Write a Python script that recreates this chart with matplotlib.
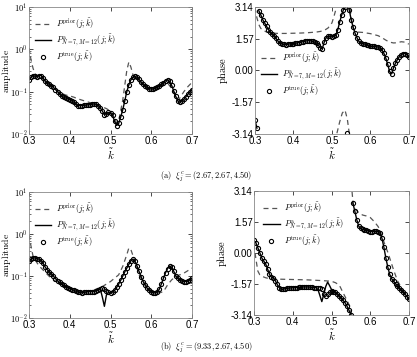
import numpy as np
import matplotlib
matplotlib.use("Agg")
import matplotlib.pyplot as plt
from matplotlib import ticker
from matplotlib.lines import Line2D

plt.rcParams['mathtext.fontset'] = 'cm'
plt.rcParams['font.family'] = ['Liberation Sans', 'DejaVu Sans']

# sampling grid of the true / fitted curves
k = np.linspace(0.3, 0.7, 81)

# ---- case (a): log10 of amplitude
amp_true_a = [-0.72, -0.66, -0.62, -0.64, -0.65, -0.62, -0.62, -0.68, -0.76, -0.80,
              -0.83, -0.86, -0.90, -0.95, -1.00, -1.05, -1.10, -1.13, -1.15, -1.17,
              -1.19, -1.22, -1.25, -1.30, -1.33, -1.33, -1.33, -1.32, -1.32, -1.31,
              -1.31, -1.30, -1.29, -1.30, -1.33, -1.38, -1.46, -1.54, -1.52, -1.49,
              -1.50, -1.56, -1.70, -1.80, -1.75, -1.60, -1.43, -1.22, -1.00, -0.84,
              -0.72, -0.66, -0.64, -0.66, -0.71, -0.77, -0.83, -0.87, -0.90, -0.93,
              -0.94, -0.94, -0.92, -0.90, -0.87, -0.83, -0.79, -0.74, -0.72, -0.76,
              -0.85, -0.98, -1.11, -1.22, -1.25, -1.22, -1.18, -1.12, -1.06, -1.00,
              -0.95]
amp_fit_a = amp_true_a  # fit lies on top of the true curve here
amp_prior_k_a = [0.300, 0.305, 0.310, 0.315, 0.320, 0.330, 0.340, 0.350, 0.360, 0.370,
                 0.380, 0.390, 0.400, 0.410, 0.420, 0.430, 0.440, 0.450, 0.460, 0.470,
                 0.480, 0.490, 0.500, 0.510, 0.515, 0.520, 0.530, 0.540, 0.545, 0.550,
                 0.555, 0.560, 0.570, 0.580, 0.590, 0.600, 0.610, 0.620, 0.630, 0.640,
                 0.650, 0.660, 0.665, 0.670, 0.680, 0.690, 0.700]
amp_prior_a = [0.03, -0.25, -0.45, -0.58, -0.65, -0.68, -0.74, -0.80, -0.88, -0.96,
               -1.04, -1.08, -1.10, -1.13, -1.17, -1.20, -1.23, -1.26, -1.28, -1.32,
               -1.36, -1.40, -1.46, -1.62, -1.75, -1.70, -1.20, -0.50, -0.30, -0.42,
               -0.60, -0.68, -0.76, -0.84, -0.90, -0.94, -0.92, -0.88, -0.82, -0.80,
               -0.92, -1.12, -1.20, -1.15, -1.00, -0.88, -0.78]

# ---- case (a): phase (wrapped to [-pi, pi])
ph_true_a = [-2.45, -2.85, 2.95, 2.75, 2.51, 2.35, 2.18, 2.02, 1.88, 1.80,
             1.72, 1.58, 1.44, 1.36, 1.31, 1.29, 1.28, 1.29, 1.31, 1.32,
             1.32, 1.34, 1.36, 1.38, 1.40, 1.42, 1.45, 1.46, 1.48, 1.46,
             1.44, 1.40, 1.36, 1.25, 1.11, 1.08, 1.40, 1.62, 1.70, 1.68,
             1.66, 1.68, 1.73, 2.00, 2.38, 2.72, 3.01, 3.12, -3.08, 3.00,
             2.51, 2.15, 1.85, 1.62, 1.44, 1.36, 1.32, 1.30, 1.27, 1.24,
             1.19, 1.19, 1.19, 1.17, 1.15, 1.10, 1.02, 0.85, 0.61, 0.30,
             -0.05, -0.17, 0.12, 0.35, 0.53, 0.68, 0.78, 0.83, 0.83, 0.78,
             0.66]
ph_fit_a = ph_true_a
ph_prior_k_a = [0.300, 0.305, 0.310, 0.315, 0.320, 0.330, 0.340, 0.360, 0.380, 0.400,
                0.420, 0.440, 0.460, 0.470, 0.480, 0.490, 0.500, 0.505, 0.510, 0.513,
                0.520, 0.527, 0.534, 0.540, 0.545, 0.547, 0.552, 0.556, 0.565, 0.580,
                0.600, 0.620, 0.630, 0.640, 0.650, 0.660, 0.670, 0.680, 0.690, 0.700]
ph_prior_a = [3.10, 2.60, 2.27, 2.08, 2.00, 1.90, 1.85, 1.83, 1.83, 1.84,
              1.85, 1.87, 1.90, 1.93, 1.98, 2.10, 2.35, 2.65, 3.00, -3.10,
              -2.55, -2.10, -1.96, -2.40, -3.10, 3.05, 2.40, 2.05, 1.90, 1.88,
              1.82, 1.72, 1.62, 1.50, 1.40, 1.36, 1.37, 1.42, 1.40, 1.30]

# ---- case (b): log10 of amplitude
amp_true_b = [-0.65, -0.60, -0.57, -0.57, -0.59, -0.60, -0.63, -0.70, -0.79, -0.85,
              -0.90, -0.95, -1.00, -1.06, -1.11, -1.15, -1.19, -1.22, -1.25, -1.28,
              -1.30, -1.32, -1.34, -1.36, -1.38, -1.39, -1.40, -1.39, -1.38, -1.37,
              -1.37, -1.37, -1.37, -1.35, -1.33, -1.30, -1.29, -1.31, -1.35, -1.39,
              -1.40, -1.38, -1.34, -1.27, -1.19, -1.10, -1.00, -0.90, -0.81, -0.72,
              -0.63, -0.60, -0.65, -0.76, -0.89, -1.01, -1.13, -1.22, -1.29, -1.34,
              -1.37, -1.40, -1.40, -1.37, -1.31, -1.18, -1.05, -0.92, -0.82, -0.76,
              -0.79, -0.88, -1.00, -1.05, -1.09, -1.12, -1.13, -1.13, -1.12, -1.09,
              -1.05]
amp_fit_b = [-0.65, -0.60, -0.57, -0.57, -0.59, -0.60, -0.63, -0.70, -0.79, -0.85,
             -0.90, -0.95, -1.00, -1.06, -1.11, -1.15, -1.19, -1.22, -1.25, -1.28,
             -1.30, -1.32, -1.34, -1.36, -1.38, -1.39, -1.40, -1.39, -1.38, -1.37,
             -1.37, -1.37, -1.37, -1.35, -1.33, -1.31, -1.50, -1.72, -1.45, -1.39,
             -1.40, -1.38, -1.34, -1.27, -1.19, -1.10, -1.00, -0.90, -0.81, -0.72,
             -0.63, -0.60, -0.65, -0.76, -0.89, -1.01, -1.13, -1.22, -1.29, -1.34,
             -1.37, -1.40, -1.40, -1.37, -1.31, -1.18, -1.05, -0.92, -0.82, -0.76,
             -0.79, -0.88, -1.00, -1.05, -1.09, -1.12, -1.13, -1.13, -1.12, -1.09,
             -1.05]
amp_prior_k_b = [0.300, 0.305, 0.310, 0.320, 0.330, 0.340, 0.350, 0.360, 0.370, 0.380,
                 0.390, 0.400, 0.420, 0.440, 0.460, 0.480, 0.500, 0.520, 0.530, 0.540,
                 0.545, 0.550, 0.560, 0.570, 0.580, 0.590, 0.600, 0.610, 0.620, 0.630,
                 0.640, 0.650, 0.660, 0.680, 0.700]
amp_prior_b = [-0.02, -0.29, -0.53, -0.69, -0.81, -0.91, -1.01, -1.09, -1.14, -1.19,
               -1.25, -1.29, -1.35, -1.38, -1.33, -1.25, -1.13, -0.97, -0.77, -0.49,
               -0.33, -0.37, -0.65, -0.97, -1.13, -1.25, -1.33, -1.38, -1.40, -1.37,
               -1.21, -1.09, -1.01, -0.93, -0.81]

# ---- case (b): phase (wrapped)
ph_true_b = [0.64, 0.52, 0.27, 0.02, -0.24, -0.40, -0.54, -0.80, -1.08, -1.22,
             -1.25, -1.40, -1.59, -1.75, -1.84, -1.84, -1.81, -1.79, -1.78, -1.77,
             -1.76, -1.76, -1.75, -1.74, -1.73, -1.72, -1.72, -1.72, -1.72, -1.73,
             -1.74, -1.75, -1.75, -1.75, -1.77, -1.84, -2.05, -2.20, -2.05, -1.95,
             -1.93, -1.95, -1.99, -2.07, -2.18, -2.28, -2.40, -2.52, -2.69, -2.90,
             -3.12, 2.55, 2.13, 1.70, 1.37, 1.25, 1.20, 1.17, 1.15, 1.12,
             1.08, 1.09, 1.11, 1.10, 1.08, 1.00, 0.75, 0.30, -0.24, -0.70,
             -1.08, -1.30, -1.42, -1.55, -1.67, -1.78, -1.89, -1.99, -2.09, -2.22,
             -2.35]
ph_fit_b = [0.64, 0.52, 0.27, 0.02, -0.24, -0.40, -0.54, -0.80, -1.08, -1.22,
            -1.25, -1.40, -1.59, -1.75, -1.84, -1.84, -1.81, -1.79, -1.78, -1.77,
            -1.76, -1.76, -1.75, -1.74, -1.73, -1.72, -1.72, -1.72, -1.72, -1.73,
            -1.74, -1.75, -1.75, -1.85, -2.15, -2.46, -2.10, -1.70, -1.47, -1.65,
            -1.85, -1.96, -1.99, -2.07, -2.18, -2.28, -2.40, -2.52, -2.69, -2.90,
            -3.12, 2.55, 2.13, 1.70, 1.37, 1.25, 1.20, 1.17, 1.15, 1.12,
            1.08, 1.09, 1.11, 1.10, 1.08, 1.00, 0.75, 0.30, -0.24, -0.70,
            -1.08, -1.30, -1.42, -1.55, -1.67, -1.78, -1.89, -1.99, -2.09, -2.22,
            -2.35]
ph_prior_k_b = [0.300, 0.305, 0.310, 0.315, 0.320, 0.330, 0.340, 0.360, 0.380, 0.400,
                0.420, 0.440, 0.460, 0.480, 0.500, 0.510, 0.520, 0.530, 0.540, 0.548,
                0.552, 0.553, 0.556, 0.560, 0.570, 0.580, 0.590, 0.600, 0.610, 0.620,
                0.625, 0.630, 0.640, 0.646, 0.650, 0.660, 0.670, 0.680, 0.690, 0.700]
ph_prior_b = [0.44, -0.30, -0.91, -1.10, -1.17, -1.25, -1.30, -1.32, -1.33, -1.34,
              -1.35, -1.36, -1.38, -1.40, -1.43, -1.50, -1.62, -2.02, -2.40, -2.73,
              -3.10, 3.10, 2.43, 2.25, 2.05, 1.93, 1.88, 1.80, 1.60, 1.35,
              1.17, 0.85, 0.30, 0.00, -0.25, -0.85, -1.40, -1.75, -2.05, -2.35]

labels = [r'$P^{\rm prior}(j;\tilde{k})$',
          r'$P^{\rm a}_{N=7,M=12}(j;\tilde{k})$',
          r'$P^{\rm true}(j;\tilde{k})$']
captions = [r'$\mathrm{(a)}\ \ \xi^c_j = (2.67, 2.67, 4.50)$',
            r'$\mathrm{(b)}\ \ \xi^c_j = (9.33, 2.67, 4.50)$']

PRIOR = dict(color='#555555', lw=0.9, ls=(0, (4, 3)))
FIT = dict(color='black', lw=1.0)
TRUE = dict(ls='none', marker='o', ms=3.0, mew=0.8, mec='black', mfc='none')


def unwrap_breaks(x, y):
    # cut the line where the phase jumps across +-pi
    x = np.asarray(x, float)
    y = np.asarray(y, float)
    cut = np.where(np.abs(np.diff(y)) > np.pi)[0] + 1
    return np.insert(x, cut, np.nan), np.insert(y, cut, np.nan)


def style(ax):
    ax.set_xlim(0.3, 0.7)
    ax.set_xticks([0.3, 0.4, 0.5, 0.6, 0.7])
    ax.set_xticklabels(['0.3', '0.4', '0.5', '0.6', '0.7'])
    ax.tick_params(which='both', direction='in', top=True, right=True,
                   labelsize=7, pad=1.5)
    ax.tick_params(which='major', length=3, width=0.5)
    ax.tick_params(which='minor', length=1.5, width=0.4)
    for s in ax.spines.values():
        s.set_linewidth(0.6)
        s.set_color('#888888')
    ax.set_xlabel(r'$\tilde{k}$', fontsize=8, labelpad=0)


def legend(ax, **kw):
    handles = [Line2D([], [], **PRIOR), Line2D([], [], **FIT), Line2D([], [], **TRUE)]
    ax.legend(handles, labels, frameon=False, fontsize=6, handlelength=2.0,
              handletextpad=0.5, labelspacing=0.15, borderpad=0.2, **kw)


def amp_panel(ax, true, fit, pk, prior):
    ax.plot(pk, 10 ** np.asarray(prior), **PRIOR)
    ax.plot(k, 10 ** np.asarray(fit), **FIT)
    ax.plot(k, 10 ** np.asarray(true), **TRUE)
    ax.set_yscale('log')
    ax.set_ylim(1e-2, 1e1)
    ax.yaxis.set_major_locator(ticker.FixedLocator([1e-2, 1e-1, 1e0, 1e1]))
    ax.yaxis.set_major_formatter(ticker.FuncFormatter(
        lambda v, p: r'$\mathsf{10^{%d}}$' % round(np.log10(v))))
    ax.yaxis.set_minor_locator(ticker.LogLocator(base=10, subs=np.arange(2, 10)))
    ax.yaxis.set_minor_formatter(ticker.NullFormatter())
    style(ax)
    ax.tick_params(axis='y', labelsize=6.0, pad=1)
    ax.set_ylabel(r'$\mathrm{amplitude}$', fontsize=7.0)
    ax.yaxis.set_label_coords(-0.098, 0.5)


def phase_panel(ax, true, fit, pk, prior):
    ax.plot(*unwrap_breaks(pk, prior), **PRIOR)
    ax.plot(*unwrap_breaks(k, fit), **FIT)
    ax.plot(k, true, **TRUE)
    ax.set_ylim(-3.14, 3.14)
    ax.set_yticks([-3.14, -1.57, 0.0, 1.57, 3.14])
    ax.set_yticklabels(['-3.14', '-1.57', '0.00', '1.57', '3.14'])
    style(ax)
    ax.tick_params(axis='y', pad=1)
    ax.set_ylabel(r'$\mathrm{phase}$', fontsize=7.5, labelpad=1)


fig = plt.figure(figsize=(4.17, 3.57), dpi=100)
ax1 = fig.add_axes([0.0695, 0.6246, 0.391, 0.356])
ax2 = fig.add_axes([0.6115, 0.6246, 0.369, 0.356])
ax3 = fig.add_axes([0.0695, 0.1090, 0.391, 0.353])
ax4 = fig.add_axes([0.6090, 0.1176, 0.372, 0.347])

amp_panel(ax1, amp_true_a, amp_fit_a, amp_prior_k_a, amp_prior_a)
phase_panel(ax2, ph_true_a, ph_fit_a, ph_prior_k_a, ph_prior_a)
amp_panel(ax3, amp_true_b, amp_fit_b, amp_prior_k_b, amp_prior_b)
phase_panel(ax4, ph_true_b, ph_fit_b, ph_prior_k_b, ph_prior_b)

legend(ax1, loc='upper left', bbox_to_anchor=(0.0, 0.97))
legend(ax2, loc='center left', bbox_to_anchor=(0.0, 0.47))
legend(ax3, loc='upper left', bbox_to_anchor=(0.0, 0.97))
legend(ax4, loc='upper left', bbox_to_anchor=(0.02, 0.97))

fig.text(0.495, 0.507, captions[0], ha='center', va='center', fontsize=6)
fig.text(0.495, 0.028, captions[1], ha='center', va='center', fontsize=6)

fig.savefig('out.png', dpi=100)
